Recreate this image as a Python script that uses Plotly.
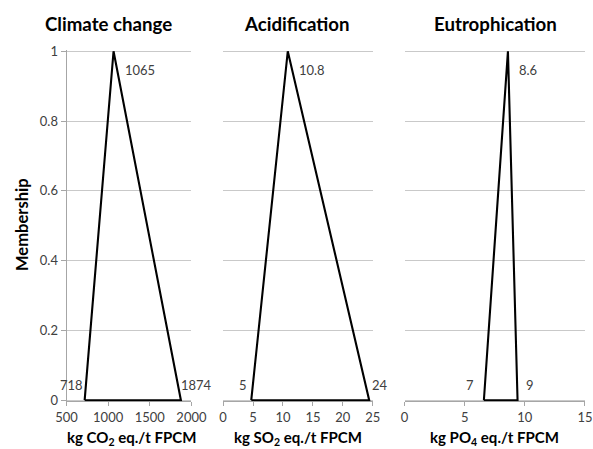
import plotly.graph_objects as go

# ---- data ----
categories = ["Climate change", "Acidification", "Eutrophication"]
x_titles = ["kg CO<sub>2</sub> eq./t FPCM", "kg SO<sub>2</sub> eq./t FPCM", "kg PO<sub>4</sub> eq./t FPCM"]
low = [718, 4.7, 6.6]
mode = [1065, 10.8, 8.6]
high = [1874, 24.4, 9.4]
label_low = ["718", "5", "7"]
label_mode = ["1065", "10.8", "8.6"]
label_high = ["1874", "24", "9"]
x_ranges = [[500, 2000], [0, 25], [0, 15]]
x_ticks = [[500, 1000, 1500, 2000], [0, 5, 10, 15, 20, 25], [0, 5, 10, 15]]
y_ticks = [0, 0.2, 0.4, 0.6, 0.8, 1]
y_ticklabels = ["0", "0.2", "0.4", "0.6", "0.8", "1"]

# ---- layout helpers ----
# target positions are given in screenshot pixels; the page renders with an
# 8px offset and a ~0.964 scale, so convert to figure pixels.
OFF, SC = 8, 0.964
W, H = 607, 458
x_dom_px = [(64, 190), (222, 373), (405, 587)]
y_bot_px, y_top_px = 399, 52
PAD = 1  # px of headroom so the base/peak of the outline are not clipped
EXT = PAD / (y_bot_px - y_top_px)
low_shift = [0, -2, -8]
high_shift = [-2, 1, 6]


def fx(p):
    return (p - OFF) / SC


def px_x(p):
    return min(1.0, max(0.0, fx(p) / W))


def px_y(p):
    return min(1.0, max(0.0, 1 - fx(p) / H))


def fs(s):
    return s / SC


FONT = "Lato, 'Open Sans', sans-serif"
TXT = "#404040"
GRID = "#c9c9c9"
AXC = "#a6a6a6"

fig = go.Figure()
annotations = []
for i in range(3):
    xa = "x" if i == 0 else f"x{i+1}"
    ya = "y" if i == 0 else f"y{i+1}"
    fig.add_trace(go.Scatter(
        x=[low[i], mode[i], high[i], low[i]],
        y=[0, 1, 0, 0],
        mode="lines",
        line=dict(color="black", width=2.1),
        xaxis=xa, yaxis=ya, showlegend=False, hoverinfo="skip",
    ))
    d = x_dom_px[i]
    fig.layout[f"xaxis{'' if i == 0 else i+1}"] = dict(
        domain=[px_x(d[0]), px_x(d[1])],
        range=x_ranges[i],
        tickvals=x_ticks[i],
        showgrid=False, zeroline=False,
        showline=True, linecolor=AXC, linewidth=1,
        ticks="outside", ticklen=4, tickcolor=AXC,
        tickfont=dict(family=FONT, size=fs(12.5), color=TXT),
        anchor=ya, layer="below traces",
        fixedrange=True,
    )
    fig.layout[f"yaxis{'' if i == 0 else i+1}"] = dict(
        domain=[px_y(y_bot_px + PAD), px_y(y_top_px - PAD)],
        range=[-EXT, 1 + EXT],
        tickvals=y_ticks,
        ticktext=y_ticklabels,
        showticklabels=(i == 0),
        showgrid=True, gridcolor=GRID, gridwidth=1,
        zeroline=False,
        showline=(i == 0), linecolor=AXC, linewidth=1,
        ticks="outside" if i == 0 else "", ticklen=5, tickcolor=AXC,
        tickfont=dict(family=FONT, size=fs(12.5), color=TXT),
        anchor=xa, layer="below traces",
        fixedrange=True,
    )
    # point labels
    annotations.append(dict(x=mode[i], y=1, xref=xa, yref=ya, text=label_mode[i],
                            showarrow=False, xanchor="left", yanchor="top",
                            xshift=9, yshift=-9,
                            font=dict(family=FONT, size=fs(12.5), color=TXT)))
    annotations.append(dict(x=low[i], y=0, xref=xa, yref=ya, text=label_low[i],
                            showarrow=False, xanchor="right", yanchor="bottom",
                            xshift=low_shift[i], yshift=5,
                            font=dict(family=FONT, size=fs(12.5), color=TXT)))
    annotations.append(dict(x=high[i], y=0, xref=xa, yref=ya, text=label_high[i],
                            showarrow=False, xanchor="left", yanchor="bottom",
                            xshift=high_shift[i], yshift=5,
                            font=dict(family=FONT, size=fs(12.5), color=TXT)))
    # x-axis titles
    annotations.append(dict(x=0.5, y=px_y(437), xref=f"{xa} domain", yref="paper",
                            text=f"<b>{x_titles[i]}</b>", showarrow=False,
                            xanchor="center", yanchor="middle", borderpad=0,
                            xshift=3 if i == 0 else 0,
                            font=dict(family=FONT, size=fs(14.5), color="black")))

# panel titles
title_cx = [106, 297, 497]
for i in range(3):
    annotations.append(dict(x=px_x(title_cx[i]), y=px_y(25), xref="paper", yref="paper",
                            text=f"<b>{categories[i]}</b>", showarrow=False,
                            xanchor="center", yanchor="middle",
                            font=dict(family=FONT, size=fs(18), color="black")))
# y-axis title
annotations.append(dict(x=px_x(19), y=px_y(224), xref="paper", yref="paper",
                        text="<b>Membership</b>", showarrow=False, textangle=-90,
                        xanchor="center", yanchor="middle",
                        font=dict(family=FONT, size=fs(16), color="black")))

fig.update_layout(
    width=W, height=H,
    margin=dict(l=0, r=0, t=0, b=0),
    paper_bgcolor="white", plot_bgcolor="white",
    annotations=annotations,
    showlegend=False,
)

fig.write_html("out.html", config={"displayModeBar": False})
